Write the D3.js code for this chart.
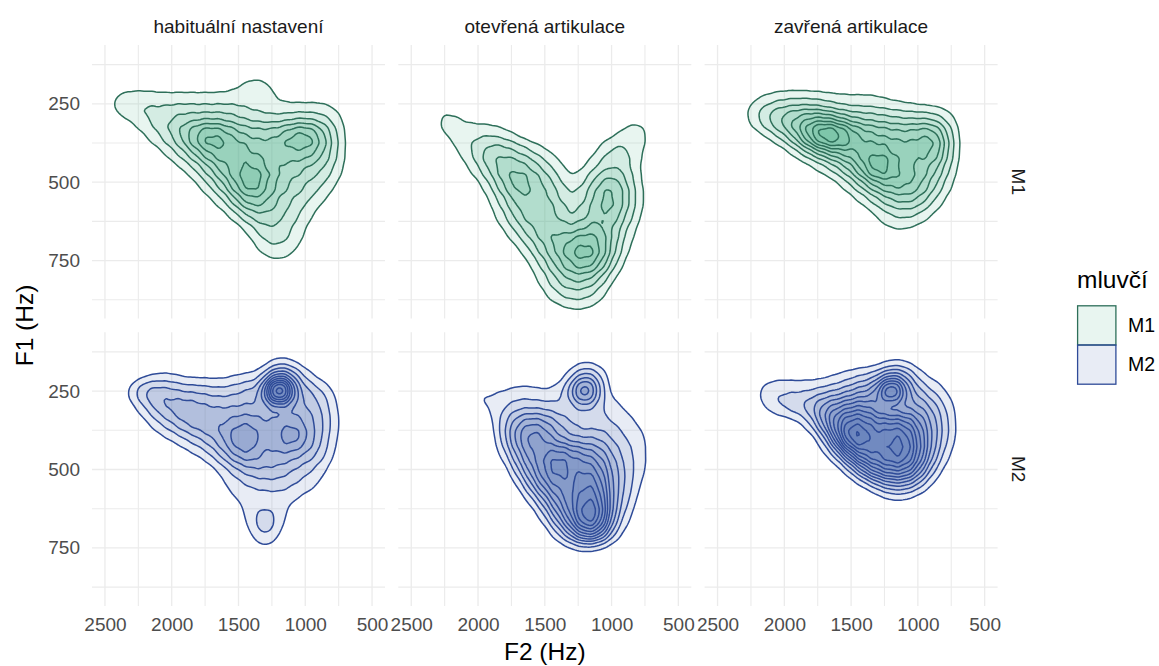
<!DOCTYPE html>
<html>
<head>
<meta charset="utf-8">
<script src="https://cdn.jsdelivr.net/npm/d3@7"></script>
<style>
  body { margin: 0; background: #ffffff; }
  svg { display: block; }
  text { font-family: "Liberation Sans", Arial, Helvetica, sans-serif; }
</style>
</head>
<body>
<svg id="chart" width="1159" height="666"></svg>
<script>
// Facets and axis ticks
const conditions = ["habituální nastavení", "otevřená artikulace", "zavřená artikulace"];
const speakers = ["M1", "M2"];
const xTickValues = [2500, 2000, 1500, 1000, 500];
const xMinorValues = [2250, 1750, 1250, 750];
const yTickValues = [250, 500, 750];
const yMinorValues = [125, 375, 625, 875];

// Formant bins (Hz): columns are F2 bin centres, rows are F1 bin centres
const f2Bins = [2500, 2400, 2300, 2200, 2100, 2000, 1900, 1800, 1700, 1600, 1500, 1400, 1300, 1200, 1100, 1000, 900, 800, 700, 600];
const f1Bins = [150, 200, 250, 300, 350, 400, 450, 500, 550, 600, 650, 700, 750, 800, 850, 900];

// Vowel token counts per (F1 row, F2 column) bin
const m1Habitual = [
  [0,0,0,0,0,0,0,0,0,0,0,1,0,0,0,0,0,0,0,0],
  [0,1,1,1,1,1,1,1,1,1,2,4,4,1,0,0,0,0,0,0],
  [1,4,5,5,4,4,4,4,4,4,4,3,2,2,2,2,2,2,0,0],
  [0,1,2,4,5,7,7,7,7,7,6,5,5,4,5,5,5,4,1,0],
  [0,0,0,2,4,7,10,16,19,14,12,10,10,11,15,17,12,6,1,0],
  [0,0,0,0,1,3,6,10,14,14,13,12,10,11,12,12,10,6,1,0],
  [0,0,0,0,0,1,2,5,9,12,14,16,12,10,9,8,7,5,1,0],
  [0,0,0,0,0,0,0,2,5,9,14,19,12,10,8,6,5,3,0,0],
  [0,0,0,0,0,0,0,0,2,4,10,14,11,8,6,5,3,1,0,0],
  [0,0,0,0,0,0,0,0,0,1,4,8,8,7,5,3,1,0,0,0],
  [0,0,0,0,0,0,0,0,0,0,0,3,6,6,4,2,0,0,0,0],
  [0,0,0,0,0,0,0,0,0,0,0,1,4,5,3,1,0,0,0,0],
  [0,0,0,0,0,0,0,0,0,0,0,0,1,2,1,0,0,0,0,0],
  [0,0,0,0,0,0,0,0,0,0,0,0,0,0,0,0,0,0,0,0],
  [0,0,0,0,0,0,0,0,0,0,0,0,0,0,0,0,0,0,0,0],
  [0,0,0,0,0,0,0,0,0,0,0,0,0,0,0,0,0,0,0,0]
];
const m1Open = [
  [0,0,0,0,0,0,0,0,0,0,0,0,0,0,0,0,0,0,0,0],
  [0,0,0,0,0,0,0,0,0,0,0,0,0,0,0,0,0,0,0,0],
  [0,0,1,1,0,0,0,0,0,0,0,0,0,0,0,0,0,0,0,0],
  [0,0,3,3,2,1,1,0,0,0,0,0,0,0,0,0,1,2,1,0],
  [0,0,1,3,3,4,4,3,1,0,0,0,0,0,0,1,3,4,1,0],
  [0,0,0,1,3,6,8,8,6,4,2,1,0,0,2,6,5,3,0,0],
  [0,0,0,0,1,4,8,10,10,8,5,3,0,2,4,6,5,2,0,0],
  [0,0,0,0,0,1,4,10,13,10,8,5,1,4,8,11,7,2,0,0],
  [0,0,0,0,0,0,2,6,10,10,9,7,3,6,10,13,8,3,0,0],
  [0,0,0,0,0,0,1,4,8,10,10,8,4,7,10,11,7,2,0,0],
  [0,0,0,0,0,0,0,2,5,8,10,10,7,11,11,8,4,1,0,0],
  [0,0,0,0,0,0,0,0,2,5,9,12,14,17,14,8,3,0,0,0],
  [0,0,0,0,0,0,0,0,0,2,6,10,13,17,13,6,1,0,0,0],
  [0,0,0,0,0,0,0,0,0,1,3,7,9,9,7,2,0,0,0,0],
  [0,0,0,0,0,0,0,0,0,0,2,5,6,6,4,0,0,0,0,0],
  [0,0,0,0,0,0,0,0,0,0,0,1,2,2,1,0,0,0,0,0]
];
const m1Closed = [
  [0,0,0,0,0,0,0,0,0,0,0,0,0,0,0,0,0,0,0,0],
  [0,0,0,0,1,1,1,1,1,1,1,1,1,0,0,0,0,0,0,0],
  [0,0,1,3,4,5,5,5,4,3,3,3,3,2,2,1,1,1,0,0],
  [0,0,1,5,9,11,12,14,13,10,8,8,7,7,6,6,6,4,1,0],
  [0,0,0,0,2,6,10,20,27,25,18,14,13,12,12,12,16,8,1,0],
  [0,0,0,0,0,0,3,6,10,12,14,14,15,14,13,11,16,8,1,0],
  [0,0,0,0,0,0,0,1,3,6,10,15,24,15,13,11,10,6,1,0],
  [0,0,0,0,0,0,0,0,0,1,4,8,12,14,14,12,8,4,0,0],
  [0,0,0,0,0,0,0,0,0,0,1,3,6,9,10,9,5,2,0,0],
  [0,0,0,0,0,0,0,0,0,0,0,0,2,4,5,4,2,0,0,0],
  [0,0,0,0,0,0,0,0,0,0,0,0,1,2,2,1,0,0,0,0],
  [0,0,0,0,0,0,0,0,0,0,0,0,0,0,0,0,0,0,0,0],
  [0,0,0,0,0,0,0,0,0,0,0,0,0,0,0,0,0,0,0,0],
  [0,0,0,0,0,0,0,0,0,0,0,0,0,0,0,0,0,0,0,0],
  [0,0,0,0,0,0,0,0,0,0,0,0,0,0,0,0,0,0,0,0],
  [0,0,0,0,0,0,0,0,0,0,0,0,0,0,0,0,0,0,0,0]
];
const m2Habitual = [
  [0,0,0,0,0,0,0,0,0,0,0,0,0,2,1,0,0,0,0,0],
  [0,0,0,1,2,2,1,1,1,1,2,2,4,12,8,3,1,0,0,0],
  [0,0,3,8,8,7,6,6,5,5,6,7,9,42,12,7,5,2,0,0],
  [0,0,1,4,8,9,10,9,8,8,8,8,8,9,9,8,7,3,0,0],
  [0,0,0,1,4,6,9,10,10,10,12,12,10,11,12,10,7,4,0,0],
  [0,0,0,0,1,2,4,6,8,11,15,14,10,12,15,11,7,3,0,0],
  [0,0,0,0,0,0,1,2,4,8,12,12,9,10,9,8,6,2,0,0],
  [0,0,0,0,0,0,0,0,1,3,6,8,8,8,6,5,3,1,0,0],
  [0,0,0,0,0,0,0,0,0,2,3,4,5,5,4,3,2,0,0,0],
  [0,0,0,0,0,0,0,0,0,1,2,3,2,3,2,1,0,0,0,0],
  [0,0,0,0,0,0,0,0,0,0,1,3,7,3,1,0,0,0,0,0],
  [0,0,0,0,0,0,0,0,0,0,0,2,6,2,0,0,0,0,0,0],
  [0,0,0,0,0,0,0,0,0,0,0,0,2,0,0,0,0,0,0,0],
  [0,0,0,0,0,0,0,0,0,0,0,0,0,0,0,0,0,0,0,0],
  [0,0,0,0,0,0,0,0,0,0,0,0,0,0,0,0,0,0,0,0],
  [0,0,0,0,0,0,0,0,0,0,0,0,0,0,0,0,0,0,0,0]
];
const m2Open = [
  [0,0,0,0,0,0,0,0,0,0,0,0,0,1,0,0,0,0,0,0],
  [0,0,0,0,0,0,0,0,0,0,0,0,3,8,5,0,0,0,0,0],
  [0,0,0,0,0,2,2,2,3,3,2,3,7,22,6,1,0,0,0,0],
  [0,0,0,0,2,2,2,4,5,5,5,4,4,7,4,3,2,0,0,0],
  [0,0,0,0,0,0,1,6,10,13,11,8,6,4,5,4,3,2,0,0],
  [0,0,0,0,0,0,0,6,12,17,14,10,8,8,8,6,4,3,1,0],
  [0,0,0,0,0,0,0,3,9,14,16,18,16,14,12,8,5,3,1,0],
  [0,0,0,0,0,0,0,0,6,12,17,21,17,19,16,10,6,3,1,0],
  [0,0,0,0,0,0,0,0,1,8,14,17,17,21,19,10,6,2,0,0],
  [0,0,0,0,0,0,0,0,0,2,8,14,18,23,22,10,5,1,0,0],
  [0,0,0,0,0,0,0,0,0,0,3,10,16,27,24,9,3,0,0,0],
  [0,0,0,0,0,0,0,0,0,0,0,4,10,18,16,5,1,0,0,0],
  [0,0,0,0,0,0,0,0,0,0,0,0,1,2,1,0,0,0,0,0],
  [0,0,0,0,0,0,0,0,0,0,0,0,0,0,0,0,0,0,0,0],
  [0,0,0,0,0,0,0,0,0,0,0,0,0,0,0,0,0,0,0,0],
  [0,0,0,0,0,0,0,0,0,0,0,0,0,0,0,0,0,0,0,0]
];
const m2Closed = [
  [0,0,0,0,0,0,0,0,0,0,0,0,0,1,1,0,0,0,0,0],
  [0,0,0,0,1,1,1,1,1,2,3,4,5,10,8,3,1,1,0,0],
  [0,0,0,2,4,4,4,4,5,6,8,10,12,32,12,7,4,2,0,0],
  [0,0,0,1,3,5,6,8,12,14,16,17,13,10,10,11,8,4,1,0],
  [0,0,0,0,0,0,1,4,12,20,25,23,20,21,20,15,10,5,1,0],
  [0,0,0,0,0,0,0,0,4,16,30,26,22,25,25,18,10,5,1,0],
  [0,0,0,0,0,0,0,0,1,5,16,22,22,25,25,18,9,3,0,0],
  [0,0,0,0,0,0,0,0,0,0,4,12,18,20,20,14,5,1,0,0],
  [0,0,0,0,0,0,0,0,0,0,0,1,5,8,8,5,1,0,0,0],
  [0,0,0,0,0,0,0,0,0,0,0,0,0,1,1,0,0,0,0,0],
  [0,0,0,0,0,0,0,0,0,0,0,0,0,0,0,0,0,0,0,0],
  [0,0,0,0,0,0,0,0,0,0,0,0,0,0,0,0,0,0,0,0],
  [0,0,0,0,0,0,0,0,0,0,0,0,0,0,0,0,0,0,0,0],
  [0,0,0,0,0,0,0,0,0,0,0,0,0,0,0,0,0,0,0,0],
  [0,0,0,0,0,0,0,0,0,0,0,0,0,0,0,0,0,0,0,0],
  [0,0,0,0,0,0,0,0,0,0,0,0,0,0,0,0,0,0,0,0]
];

const panelCounts = {
  M1: [m1Habitual, m1Open, m1Closed],
  M2: [m2Habitual, m2Open, m2Closed]
};

// kernel bandwidth (px) per speaker row
const bandwidths = { M1: 9.5, M2: 8 };

const strokeColor = { M1: "#2d6f59", M2: "#2e4b98" };
const fillColor = { M1: "#4fae88", M2: "#5169b4" };
const fillAlpha = 0.13;

// Layout
const svg = d3.select("#chart");
const panelW = 293, panelH = 273.6;
const left0 = 92, top0 = 45, gapX = 13.3, gapY = 13.7;

const x = d3.scaleLinear().domain([2597, 403]).range([0, panelW]);
const y = d3.scaleLinear().domain([62.5, 935]).range([0, panelH]);

// bin table -> weighted points
function binsToPoints(counts) {
  const pts = [];
  counts.forEach((row, i) => row.forEach((n, j) => {
    if (n > 0) pts.push({ f2: f2Bins[j], f1: f1Bins[i], n });
  }));
  return pts;
}

// contour levels shared by all facets: one level = 2 tokens per bin area
const binArea = Math.abs(x(f2Bins[1]) - x(f2Bins[0])) * Math.abs(y(f1Bins[1]) - y(f1Bins[0]));
const LEVEL = 2 / binArea;
const thresholds = d3.range(1, 40).map(k => k * LEVEL);

const gridColor = "#ebebeb";
const tickColor = "#4d4d4d";

speakers.forEach((sp, r) => {
  conditions.forEach((cond, c) => {
    const px = left0 + c * (panelW + gapX);
    const py = top0 + r * (panelH + gapY);
    const g = svg.append("g").attr("transform", `translate(${px},${py})`);

    // grid
    g.selectAll("line.vmin").data(xMinorValues).join("line")
      .attr("x1", d => x(d)).attr("x2", d => x(d)).attr("y1", 0).attr("y2", panelH)
      .attr("stroke", gridColor).attr("stroke-width", 1.1);
    g.selectAll("line.hmin").data(yMinorValues).join("line")
      .attr("x1", 0).attr("x2", panelW).attr("y1", d => y(d)).attr("y2", d => y(d))
      .attr("stroke", gridColor).attr("stroke-width", 1.1);
    g.selectAll("line.vmaj").data(xTickValues).join("line")
      .attr("x1", d => x(d)).attr("x2", d => x(d)).attr("y1", 0).attr("y2", panelH)
      .attr("stroke", gridColor).attr("stroke-width", 1.3);
    g.selectAll("line.hmaj").data(yTickValues).join("line")
      .attr("x1", 0).attr("x2", panelW).attr("y1", d => y(d)).attr("y2", d => y(d))
      .attr("stroke", gridColor).attr("stroke-width", 1.3);

    // 2D kernel density contours
    const density = d3.contourDensity()
      .x(d => x(d.f2))
      .y(d => y(d.f1))
      .weight(d => d.n)
      .size([panelW, panelH])
      .cellSize(2)
      .bandwidth(bandwidths[sp])
      .thresholds(thresholds);
    const contours = density(binsToPoints(panelCounts[sp][c])).filter(d => d.coordinates.length);
    g.append("g").selectAll("path").data(contours).join("path")
      .attr("d", d3.geoPath())
      .attr("fill", fillColor[sp])
      .attr("fill-opacity", fillAlpha)
      .attr("stroke", strokeColor[sp])
      .attr("stroke-width", 1.5)
      .attr("stroke-linejoin", "round");

    // strip labels
    if (r === 0) {
      svg.append("text").attr("x", px + panelW / 2).attr("y", 32.5)
        .attr("text-anchor", "middle").attr("font-size", 19).attr("fill", "#1a1a1a")
        .text(cond);
    }
    if (c === conditions.length - 1) {
      svg.append("text")
        .attr("transform", `translate(${px + panelW + 21},${py + panelH / 2}) rotate(90)`)
        .attr("text-anchor", "middle").attr("dominant-baseline", "central")
        .attr("font-size", 19).attr("fill", "#1a1a1a")
        .text(sp);
    }

    // axes
    if (c === 0) {
      const ax = g.append("g").call(d3.axisLeft(y).tickValues(yTickValues).tickFormat(d3.format("d")).tickSize(0).tickPadding(12));
      ax.select(".domain").remove();
      ax.selectAll("text").attr("font-size", 19).attr("fill", tickColor)
        .attr("font-family", "Liberation Sans, Arial, sans-serif");
    }
    if (r === speakers.length - 1) {
      const ax = g.append("g").attr("transform", `translate(0,${panelH})`)
        .call(d3.axisBottom(x).tickValues(xTickValues).tickFormat(d3.format("d")).tickSize(0).tickPadding(11.5));
      ax.select(".domain").remove();
      ax.selectAll("text").attr("font-size", 19).attr("fill", tickColor)
        .attr("font-family", "Liberation Sans, Arial, sans-serif");
    }
  });
});

// axis titles
svg.append("text").attr("x", left0 + (3 * panelW + 2 * gapX) / 2).attr("y", 660)
  .attr("text-anchor", "middle").attr("font-size", 24.5).attr("fill", "#000")
  .text("F2 (Hz)");
svg.append("text").attr("transform", `translate(33,${top0 + (2 * panelH + gapY) / 2}) rotate(-90)`)
  .attr("text-anchor", "middle").attr("font-size", 24.5).attr("fill", "#000")
  .text("F1 (Hz)");

// legend
const legend = svg.append("g");
legend.append("text").attr("x", 1077).attr("y", 288).attr("font-size", 24.5).attr("fill", "#000").text("mluvčí");
speakers.forEach((sp, i) => {
  const ky = 305.8 + i * 39.2;
  legend.append("rect").attr("x", 1077.6).attr("y", ky).attr("width", 38.3).attr("height", 39.2)
    .attr("fill", fillColor[sp]).attr("fill-opacity", fillAlpha)
    .attr("stroke", strokeColor[sp]).attr("stroke-width", 1.3);
  legend.append("text").attr("x", 1128).attr("y", ky + 19.6).attr("dy", "0.35em")
    .attr("font-size", 19.5).attr("fill", "#000").text(sp);
});
</script>
</body>
</html>
